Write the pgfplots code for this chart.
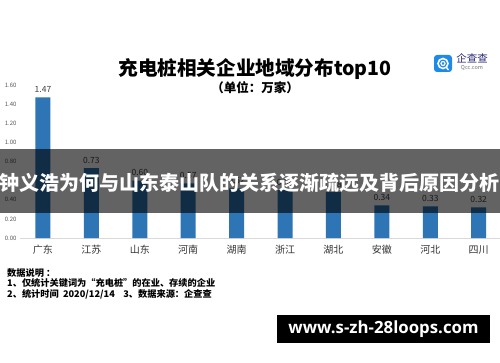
\documentclass[border=0pt]{standalone}
\usepackage{pgfplots}
\pgfplotsset{compat=1.18}
\usepackage{fontspec}
\setmainfont{Noto Sans CJK SC}
\newfontfamily\wmfont{Open Sans}
\definecolor{barblue}{HTML}{2E75B6}
\definecolor{logoblue}{HTML}{1E8AE8}
\begin{document}
\begin{tikzpicture}[x=1pt,y=1pt]
\useasboundingbox (0,0) rectangle (500,362);
\fill[white] (0,0) rectangle (500,362);
\begin{axis}[
  at={(20pt,124pt)}, anchor=south west,
  scale only axis, width=480pt, height=153pt,
  xmin=-0.475, xmax=9.44, ymin=0, ymax=1.6,
  clip=false,
  axis x line*=bottom, axis y line*=left,
  x axis line style={-, draw=black!15, line width=0.8pt},
  y axis line style={draw=none},
  major tick length=0pt,
  xtick={0,1,2,3,4,5,6,7,8,9},
  xticklabels={广东,江苏,山东,河南,湖南,浙江,湖北,安徽,河北,四川},
  xticklabel style={font=\fontsize{10}{10}\selectfont, text=black!80, yshift=-4pt},
  ytick={0,0.2,0.4,0.6,0.8,1.0,1.2,1.4,1.6},
  yticklabel style={font=\fontsize{6}{6}\selectfont, text=black!65,
    /pgf/number format/.cd, fixed, fixed zerofill, precision=2, assume math mode=true},
  ybar, bar width=15pt,
  nodes near coords,
  nodes near coords style={font=\fontsize{8.5}{8.5}\selectfont, text=black!75, yshift=1pt,
    /pgf/number format/.cd, fixed, fixed zerofill, precision=2, assume math mode=true},
]
\addplot[fill=barblue, draw=none] coordinates {
(0,1.47) (1,0.73) (2,0.60) (3,0.57) (4,0.52) (5,0.50) (6,0.48) (7,0.34) (8,0.33) (9,0.32)};
\end{axis}
% title
\node[font=\fontsize{19.6}{19.6}\selectfont\bfseries] at (255,293) {充电桩相关企业地域分布top10};
\node[font=\fontsize{12.5}{12.5}\selectfont\bfseries] at (255,274) {（单位：万家）};
% logo
\fill[logoblue, rounded corners=3pt] (434,290) rectangle (452,307);
\draw[white, line width=1.6pt] (443,298.5) circle (5);
\draw[white, line width=1.2pt] (443,298.5) circle (2);
\draw[white, line width=1.4pt] (446,295) -- (448.5,292);
\node[font=\fontsize{10.5}{10.5}\selectfont, text=black!55!blue!70!gray] at (472,304) {企查查};
\node[font=\fontsize{5.5}{5.5}\selectfont, text=black!55] at (472,294) {Qcc.com};
% notes
\begin{scope}[every node/.style={anchor=west, inner sep=0pt, font=\fontsize{9.2}{9.2}\selectfont\bfseries}]
\node at (7,89) {数据说明 ：};
\node at (7,79) {1、仅统计关键词为“充电桩”的在业、存续的企业};
\node at (7,68) {2、统计时间\ \ 2020/12/14\ \ \ \ 3、数据来源：企查查};
\end{scope}
% banner overlay
\fill[black, opacity=0.61] (0,149) rectangle (500,213);
\node[text=white, font=\fontsize{20}{20}\selectfont\bfseries, inner sep=0pt] at (249,179) {钟义浩为何与山东泰山队的关系逐渐疏远及背后原因分析};
% watermark
\fill[black] (277,19) rectangle (490,47);
\node[text=white, font=\wmfont\bfseries\fontsize{16.8}{16.8}\selectfont] at (383.5,33) {www.s-zh-28loops.com};
\end{tikzpicture}
\end{document}
